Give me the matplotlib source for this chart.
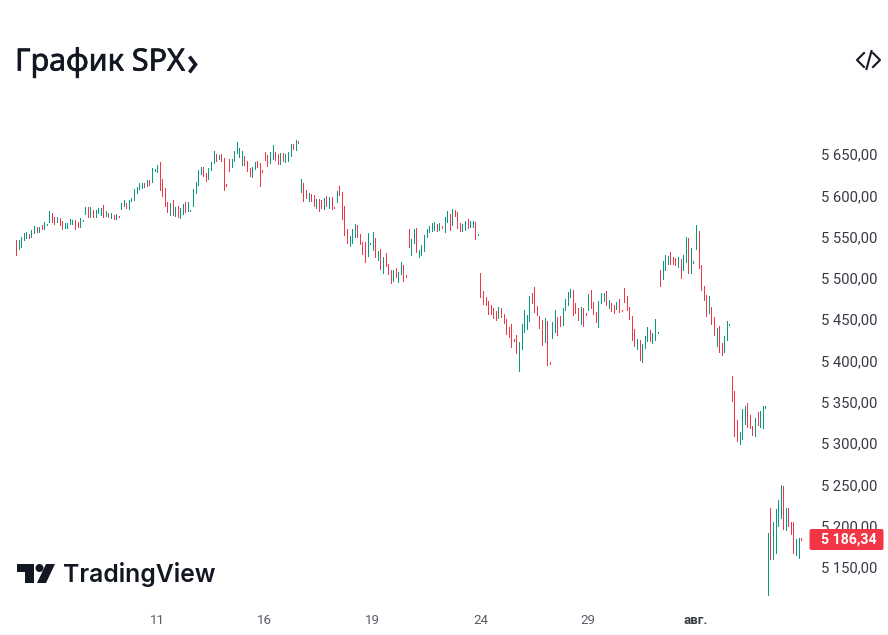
import matplotlib
matplotlib.use("Agg")
import matplotlib.pyplot as plt
import matplotlib.patheffects as pe
from matplotlib.patches import Polygon, Circle, FancyBboxPatch

W, H = 888, 635
UP, DOWN = "#089981", "#F23645"
INK = "#131722"

tops_by_day = [
 [5546,5546,5549,5554,5555,5553,5558,5563,5562,5562,5564,5568,5565],
 [5581,5579,5574,5574,5572,5569,5566,5566,5571,5570,5570,5568,5572,5570],
 [5586,5586,5586,5582,5582,5585,5585,5588,5581,5579,5579,5576,5577,5575],
 [5591,5594,5591,5594,5597,5608,5610,5615,5615,5615,5618,5618,5633,5632],
 [5637,5640,5620,5609,5592,5591,5594,5586,5587,5585,5589,5592,5592,5582],
 [5608,5616,5631,5634,5634,5627,5633,5640,5654,5650,5649,5650,5645,5614],
 [5644,5644,5654,5664,5657,5654,5648,5641,5633,5634,5640,5641,5639,5631],
 [5652,5649,5652,5661,5652,5650,5651,5651,5650,5652,5662,5662,5667,5666],
 [5620,5615,5606,5603,5602,5600,5595,5595,5594,5597,5599,5598,5598,5586],
 [5605,5611,5604,5587,5559,5551,5559,5565,5564,5553,5543,5543,5554,5542],
 [5556,5548,5533,5535,5525,5530,5517,5510,5510,5512,5507,5519,5516,5503],
 [5559,5547,5559,5560,5534,5540,5552,5559,5563,5566,5568,5565,5566,5563],
 [5574,5581,5577,5583,5582,5580,5566,5565,5569,5571,5569,5569,5568,5553],
 [5506,5484,5477,5472,5467,5464,5460,5465,5464,5456,5450,5441,5444,5426],
 [5431,5422,5444,5461,5455,5478,5482,5489,5466,5454,5449,5451,5448,5398],
 [5447,5461,5453,5454,5464,5474,5483,5487,5485,5470,5464,5465,5464,5457],
 [5480,5485,5471,5459,5472,5482,5482,5484,5473,5470,5467,5471,5474,5461],
 [5488,5478,5465,5454,5438,5426,5425,5420,5430,5441,5437,5433,5450,5435],
 [5510,5520,5528,5527,5531,5525,5524,5525,5523,5528,5550,5548,5536,5520],
 [5564,5557,5516,5490,5479,5478,5465,5453,5439,5442,5421,5430,5448,5444],
 [5381,5363,5328,5313,5341,5345,5349,5334,5321,5330,5338,5339,5345,5345],
 [5191,5221,5205,5220,5231,5249,5248,5221,5221,5205,5205,5184,5185,5185],
]
bottoms_by_day = [
 [5528,5535,5537,5546,5548,5548,5549,5554,5555,5555,5559,5559,5564],
 [5568,5568,5565,5568,5564,5559,5560,5560,5565,5565,5559,5562,5562,5569],
 [5577,5574,5574,5574,5574,5579,5576,5574,5575,5574,5572,5571,5571,5574],
 [5583,5587,5585,5583,5593,5594,5603,5608,5609,5610,5611,5612,5616,5629],
 [5628,5606,5599,5587,5580,5576,5576,5575,5574,5572,5577,5580,5581,5581],
 [5587,5603,5612,5626,5623,5617,5620,5631,5639,5641,5644,5641,5606,5611],
 [5629,5634,5641,5651,5646,5637,5637,5629,5623,5622,5632,5634,5611,5628],
 [5643,5635,5639,5644,5643,5638,5638,5641,5640,5641,5648,5656,5655,5663],
 [5604,5593,5597,5593,5593,5587,5585,5581,5585,5583,5587,5585,5583,5585],
 [5592,5600,5571,5552,5542,5539,5542,5549,5549,5541,5529,5519,5527,5541],
 [5534,5525,5522,5511,5506,5514,5505,5494,5496,5501,5495,5505,5496,5501],
 [5537,5528,5542,5531,5525,5528,5533,5549,5556,5557,5558,5557,5558,5560],
 [5556,5568,5558,5564,5575,5560,5557,5557,5558,5560,5562,5562,5547,5552],
 [5477,5468,5467,5456,5456,5451,5449,5451,5453,5445,5432,5428,5416,5424],
 [5409,5387,5414,5435,5438,5448,5470,5459,5455,5439,5419,5422,5395,5396],
 [5427,5435,5431,5442,5443,5461,5467,5477,5455,5457,5449,5444,5442,5455],
 [5461,5464,5456,5447,5441,5470,5472,5467,5464,5460,5457,5462,5459,5460],
 [5471,5461,5450,5425,5418,5414,5401,5398,5415,5424,5424,5421,5425,5433],
 [5490,5499,5510,5517,5517,5517,5516,5513,5500,5510,5519,5506,5506,5518],
 [5535,5512,5485,5473,5454,5457,5444,5431,5418,5410,5407,5410,5425,5443],
 [5351,5309,5303,5299,5305,5323,5319,5318,5310,5309,5322,5319,5318,5342],
 [5116,5160,5160,5167,5200,5209,5196,5195,5200,5190,5167,5165,5161,5183],
]
directions_by_day = [
 "RGGGGRGGRGRGG", "GRRGRRGGGGRRGG", "GRGRGGGRGRGRGR", "GGRGGGGGGRGRGG",
 "GRRRRGRGRGGRGG", "GGGGRRGGGRGRRR", "RGGGGGRRRGGRRR", "RRGGRRGRGGGRGR",
 "GRRGRRGRRGRGRR", "GRRRRGGGRRRRGG", "GRGRGRRRGRGGRR", "RGGRGGGGGGGRGR",
 "GGRGRRRGGRGGRG", "RRRRRRRGRRRRRR", "RGGGGGRRRRRGRR", "GGRRGGGGRRRGRR",
 "GRRRGGGRGRRGRR", "RRRRRGRGGGRGGG", "RGGGRRRGRGGRGG", "GRRRRGRRGRRGGG",
 "RRRGGGRRRGRGGG", "GRGGGGRGRRRGGR",
]
price_ticks = [5150, 5200, 5250, 5300, 5350, 5400, 5450, 5500, 5550, 5600, 5650]
price_tick_labels = ["5 150,00", "5 200,00", "5 250,00", "5 300,00", "5 350,00", "5 400,00",
                     "5 450,00", "5 500,00", "5 550,00", "5 600,00", "5 650,00"]
date_tick_bars = [55, 97, 139, 181, 223, 265]
date_tick_labels = ["11", "16", "19", "24", "29", "авг."]
last_price = 5186.34
last_price_label = "5 186,34"

tops = [v for d in tops_by_day for v in d]
bottoms = [v for d in bottoms_by_day for v in d]
colors = [UP if c == "G" else DOWN for d in directions_by_day for c in d]
bars = list(range(len(tops)))

plt.rcParams["font.family"] = ["Roboto", "Noto Sans", "DejaVu Sans"]
fig = plt.figure(figsize=(W / 100, H / 100), dpi=100, facecolor="white")

AX_R, AX_B = 812, 605
ax = fig.add_axes([0, 1 - AX_B / H, AX_R / W, AX_B / H])
STEP = 2.566
ax.set_xlim(-16 / STEP, (AX_R - 16) / STEP)
PX = 500 / 413
ax.set_ylim(5650 - (AX_B - 154) * PX, 5650 + 154 * PX)
lc = ax.vlines(bars, bottoms, tops, colors=colors, linewidth=0.7, capstyle="butt")
lc.set_snap(True)
lc.set_antialiased(False)
for s in ax.spines.values():
    s.set_visible(False)
ax.yaxis.tick_right()
ax.set_yticks(price_ticks, price_tick_labels)
ax.set_xticks(date_tick_bars, date_tick_labels)
ax.tick_params(axis="y", length=0, pad=6.5, labelsize=10.6, labelcolor="#363A45")
ax.tick_params(axis="x", length=0, pad=6.5, labelsize=9.6, labelcolor="#5A5D68")
ax.get_xticklabels()[-1].set_fontweight("bold")
ax.get_xticklabels()[-1].set_color("#3B3E48")

# page furniture, in pixel coordinates
ov = fig.add_axes([0, 0, 1, 1], facecolor="none")
ov.set_xlim(0, W)
ov.set_ylim(H, 0)
ov.axis("off")

title = ov.text(15, 70.5, "График SPX", fontsize=22, family="Noto Sans",
                color=INK, ha="left", va="baseline")
title.set_path_effects([pe.withStroke(linewidth=0.5, foreground=INK)])
ov.plot([190.5, 195.5, 190.5], [58, 64.5, 71], color=INK, lw=2.6, solid_joinstyle="miter")

ov.plot([864, 857, 864], [53, 60, 67], color=INK, lw=1.5)
ov.plot([873, 880, 873], [53, 60, 67], color=INK, lw=1.5)
ov.plot([866.5, 871.5], [69, 51], color=INK, lw=1.5)

# TradingView mark
ov.add_patch(Polygon([(17, 564), (34, 564), (34, 583), (25, 583), (25, 572), (17, 572)],
                     closed=True, fc=INK, ec="none"))
ov.add_patch(Circle((39.5, 568), 4, fc=INK, ec="none"))
ov.add_patch(Polygon([(46, 564), (55, 564), (46, 583), (37, 583)], closed=True, fc=INK, ec="none"))
ov.text(63, 582, "TradingView", fontsize=17.8, family="Inter", weight="semibold",
        color=INK, ha="left", va="baseline")

# last price tag
ov.add_patch(FancyBboxPatch((809.5, 529), 74, 21, boxstyle="round,pad=0,rounding_size=2",
                            fc=DOWN, ec="none", zorder=5))
ov.text(821, 539.5, last_price_label, fontsize=10.2, weight="bold", color="white",
        ha="left", va="center", zorder=6)

fig.savefig("out.png", dpi=100, facecolor="white")
